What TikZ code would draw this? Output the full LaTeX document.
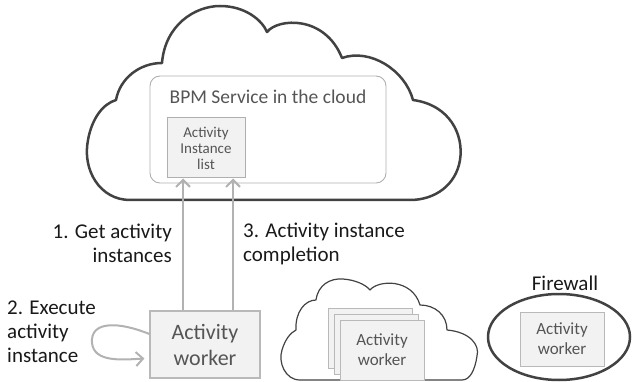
\documentclass[tikz,border=0pt]{standalone}
\usepackage{fontspec}
\setmainfont{Carlito}
\usetikzlibrary{arrows.meta}
\definecolor{cloudline}{RGB}{66,66,66}
\definecolor{boxline}{RGB}{185,185,185}
\definecolor{paneline}{RGB}{175,175,175}
\definecolor{boxfill}{RGB}{242,242,242}
\definecolor{arrowgray}{RGB}{178,178,178}
\definecolor{txtgray}{RGB}{85,85,85}
\definecolor{labeltxt}{RGB}{25,25,25}
\tikzset{
  cloudpath/.style={draw=cloudline, line width=2.5pt, line join=round},
  smallcloud/.style={draw=cloudline, line width=1.2pt, line join=round},
  pane/.style={draw=paneline, line width=0.9pt, rounded corners=10pt},
  listbox/.style={draw=paneline, line width=1pt, fill=boxfill, inner sep=0pt,
    minimum width=78pt, minimum height=60pt, align=center, text=txtgray,
    font=\fontsize{15}{16}\selectfont},
  workerbox/.style={draw=boxline, line width=1.2pt, fill=boxfill, inner sep=0pt,
    minimum width=110pt, minimum height=67pt, align=center, text=txtgray,
    font=\fontsize{22}{26}\selectfont},
  smallworker/.style={draw=boxline, line width=1pt, fill=boxfill, inner sep=0pt,
    minimum width=84pt, minimum height=60pt, align=center, text=txtgray,
    font=\fontsize{17}{20}\selectfont},
  lbl/.style={inner sep=0pt, text=labeltxt, font=\fontsize{21}{24}\selectfont},
  flow/.style={draw=arrowgray, line width=2pt,
    -{Straight Barb[length=7pt,width=14pt,line width=2pt]}},
  firewallring/.style={draw=cloudline, line width=2.5pt}
}
\begin{document}
\begin{tikzpicture}[x=1pt,y=-1pt]
\useasboundingbox (0,0) rectangle (632,382);

% cloud hosting the BPM service
\draw[cloudpath] (130,200)
  .. controls (100,200) and (82,170) .. (88,140)
  .. controls (92,118) and (103,104) .. (116,100)
  .. controls (120,78) and (140,63) .. (162,63)
  .. controls (165,25) and (195,6) .. (220,6)
  .. controls (245,6) and (262,20) .. (267,32)
  .. controls (278,18) and (325,15) .. (342,58)
  .. controls (370,48) and (405,70) .. (413,100)
  .. controls (450,105) and (464,135) .. (460,160)
  .. controls (456,185) and (435,200) .. (410,200)
  -- cycle;

% BPM service pane
\node[pane, minimum width=236pt, minimum height=107pt] (bpm) at (268,129.5) {};
\node[inner sep=0pt, text=txtgray, font=\fontsize{19.5}{22}\selectfont] (bpmtitle) at (268,97) {BPM Service in the cloud};
\node[listbox] (list) at (206,148) {Activity\\Instance\\list};

% local worker
\node[workerbox] (worker) at (205,344.5) {Activity\\worker};

% polling and completion flows
\draw[flow] ([xshift=-22pt]worker.north) -- ([xshift=-22pt]worker.north |- list.south);
\draw[flow] ([xshift=28pt]worker.north) -- ([xshift=28pt]worker.north |- list.south);

% execution loop
\coordinate (loopstart) at ([yshift=10.5pt]worker.west);
\coordinate (loopend) at ([xshift=-5pt,yshift=-14pt]worker.west);
\draw[flow] (loopstart) .. controls (120,322) and (90,320) .. (92,343)
  .. controls (94,362) and (120,360) .. (loopend);

% labels
\node[lbl, anchor=east, align=right] (getlbl) at (172,243.5) {1. Get activity\\instances};
\node[lbl, anchor=west, align=left] (execlbl) at (7,332) {2. Execute\\activity\\instance};
\node[lbl, anchor=west, align=left] (donelbl) at (243,243.5) {3. Activity instance\\completion};

% cloud of scaled-out workers
\draw[smallcloud] (300,380)
  .. controls (285,380) and (278,362) .. (282,350)
  .. controls (285,340) and (290,333) .. (296,330)
  .. controls (295,312) and (305,300) .. (316,300)
  .. controls (318,285) and (330,278) .. (343,279)
  .. controls (356,280) and (366,285) .. (370,290)
  .. controls (378,280) and (412,278) .. (420,305)
  .. controls (435,305) and (447,315) .. (447,330)
  .. controls (470,332) and (480,345) .. (477,356)
  .. controls (475,370) and (470,380) .. (462,380)
  -- cycle;
\node[smallworker] (w3) at (370,338) {};
\node[smallworker] (w2) at (376,344) {};
\node[smallworker] (w1) at (382,350) {Activity\\worker};

% worker behind a firewall
\draw[firewallring] (559,337) ellipse [x radius=71pt, y radius=43pt];
\node[lbl] (fwlbl) at (565,283) {Firewall};
\node[smallworker, minimum height=54pt] (fw) at (562,339) {Activity\\worker};
\end{tikzpicture}
\end{document}
